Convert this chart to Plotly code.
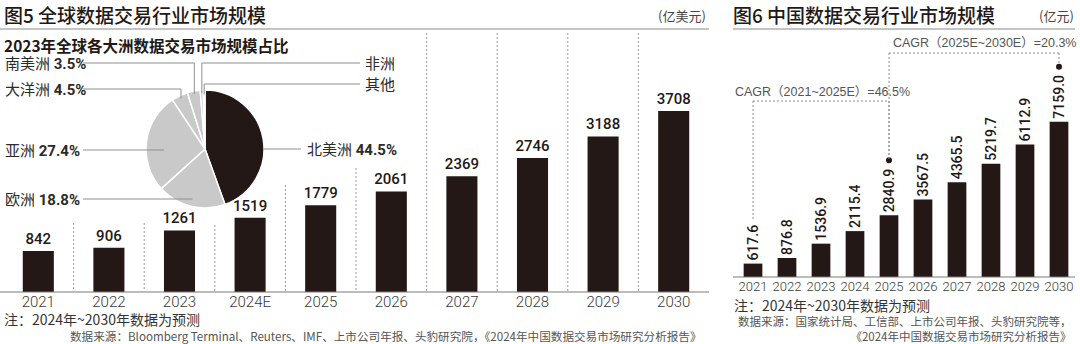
import math
import plotly.graph_objects as go

# ---------------- data ----------------
years_global = ["2021", "2022", "2023", "2024E", "2025", "2026", "2027", "2028", "2029", "2030"]
global_market = [842, 906, 1261, 1519, 1779, 2061, 2369, 2746, 3188, 3708]

years_china = ["2021", "2022", "2023", "2024", "2025", "2026", "2027", "2028", "2029", "2030"]
china_market = [617.6, 876.8, 1536.9, 2115.4, 2840.9, 3567.5, 4365.5, 5219.7, 6112.9, 7159.0]

regions = ["北美洲", "欧洲", "亚洲", "大洋洲", "南美洲", "非洲", "其他"]
region_share = [44.5, 18.8, 27.4, 4.5, 3.5, 0.8, 0.5]
region_show_pct = [True, True, True, True, True, False, False]

cagr_labels = ["CAGR（2021~2025E）=46.5%", "CAGR（2025E~2030E）=20.3%"]
cagr_spans = [("2021", "2025"), ("2025", "2030")]

# ---------------- style / layout constants ----------------
W, H = 1080, 344
DARK = "#231815"
LIGHT = "#c9c9c9"
LINE = "#8f8f8f"
CJK = "Noto Sans CJK SC"
NUM = "Roboto, Noto Sans CJK SC"


def px(x):
    return x / W


def py(y):
    return 1 - y / H


# left chart geometry (pixels)
L_X0, L_X1, L_BASE, L_TOP, L_YMAX = 3, 709, 292, 33, 5306
# right chart geometry (pixels)
R_X0, R_X1, R_BASE, R_TOP, R_YMAX = 736, 1076, 277, 33, 11248
# pie geometry
P_CX, P_CY, P_R = 205, 149, 59


def r_cat_px(cat):
    i = years_china.index(cat)
    return R_X0 + (i + 0.5) * (R_X1 - R_X0) / len(years_china)


def r_val_px(v):
    return R_BASE - v / R_YMAX * (R_BASE - R_TOP)


fig = go.Figure()

# left bars
fig.add_trace(go.Bar(
    x=years_global, y=global_market, xaxis="x", yaxis="y", width=0.44,
    marker=dict(color=DARK, line=dict(width=0)),
    texttemplate="%{y}", textposition="outside", cliponaxis=False,
    constraintext="none",
    textfont=dict(family=NUM, size=15, color=DARK, weight=500),
    showlegend=False, hoverinfo="x+y",
))

# right bars
fig.add_trace(go.Bar(
    x=years_china, y=china_market, xaxis="x2", yaxis="y2", width=0.55,
    marker=dict(color=DARK, line=dict(width=0)),
    texttemplate="%{y:.1f}", textposition="outside", textangle=-90,
    cliponaxis=False, constraintext="none",
    textfont=dict(family=NUM, size=14, color=DARK, weight=500),
    showlegend=False, hoverinfo="x+y",
))

# pie
fig.add_trace(go.Pie(
    values=region_share, labels=regions, sort=False, direction="clockwise",
    rotation=0, hole=0, textinfo="none", showlegend=False,
    marker=dict(colors=[DARK] + [LIGHT] * (len(regions) - 1),
                line=dict(color="white", width=1.5)),
    domain=dict(x=[px(P_CX - P_R), px(P_CX + P_R)], y=[py(P_CY + P_R), py(P_CY - P_R)]),
))

shapes = []
annotations = []


def hline(x0, x1, y, color=LINE, width=1, dash="solid"):
    shapes.append(dict(type="line", xref="paper", yref="paper", x0=px(x0), x1=px(x1),
                       y0=py(y), y1=py(y), line=dict(color=color, width=width, dash=dash)))


def vline(x, y0, y1, color=LINE, width=1, dash="solid"):
    shapes.append(dict(type="line", xref="paper", yref="paper", x0=px(x), x1=px(x),
                       y0=py(y0), y1=py(y1), line=dict(color=color, width=width, dash=dash)))


def text(x, y, s, size, color="#333", family=CJK, xanchor="left", weight=None, align="left"):
    f = dict(family=family, size=size, color=color)
    if weight:
        f["weight"] = weight
    annotations.append(dict(xref="paper", yref="paper", x=px(x), y=py(y), text=s,
                            showarrow=False, xanchor=xanchor, yanchor="middle", font=f,
                            align=align))


# title rules
hline(0, 709, 29, color="#8a8a8a")
hline(733, 1075, 29, color="#8a8a8a")
# baselines
hline(0, 709, 292, color="#7a7a7a", width=1.2)
hline(733, 1075, 277, color="#7a7a7a", width=1.2)

# dashed column dividers (left chart)
div_tops = [223, 223, 225, 185, 168, 33, 33, 33, 33]
step = (L_X1 - L_X0) / len(years_global)
for i, top in enumerate(div_tops):
    x = L_X0 + (i + 1) * step
    vline(x, top, 291, color="#9a9a9a", dash="2px,2px")

# pie leader lines (computed from slice angles)
cum = 0
mids = []
tot = sum(region_share)
for s in region_share:
    mids.append((cum + s / 2) / tot * 360)
    cum += s


def pie_pt(angle, frac):
    a = math.radians(angle)
    return P_CX + P_R * frac * math.sin(a), P_CY - P_R * frac * math.cos(a)


# (label x, label y, line start x, kind, radius fraction)
leaders = {
    "北美洲": (305, 149, 301, "edge", 1.0),
    "欧洲": (3, 199, 83, "h", 0.88),
    "亚洲": (3, 150, 83, "h", 0.7),
    "大洋洲": (3, 89, 83, "elbow", 0.95),
    "南美洲": (3, 63, 83, "elbow", 0.95),
    "非洲": (363, 63, 360, "elbow", 0.95),
    "其他": (363, 84, 360, "elbow", 0.92),
}
for name, share, show, mid in zip(regions, region_share, region_show_pct, mids):
    lx, ly, sx, kind, frac = leaders[name]
    ex, ey = pie_pt(mid, frac)
    if kind == "edge":
        ex = P_CX + math.sqrt(max(P_R ** 2 - (ly - P_CY) ** 2, 0))
        hline(ex, sx, ly)
    elif kind == "h":
        hline(sx, ex, ly)
    else:
        hline(sx, ex, ly)
        vline(ex, ly, ey)
    label = name + (" <b>%.1f%%</b>" % share if show else "")
    text(lx, ly + 1, label, 15, color="#2b2b2b", family=NUM)

# CAGR brackets and dots (right chart)
DOT_OFF = 55
for c in [cagr_spans[0][1], cagr_spans[1][1]]:
    v = china_market[years_china.index(c)]
    cx, cy = r_cat_px(c), r_val_px(v) - DOT_OFF
    shapes.append(dict(type="circle", xref="paper", yref="paper",
                       x0=px(cx - 3), x1=px(cx + 3), y0=py(cy + 3), y1=py(cy - 3),
                       fillcolor=DARK, line=dict(width=0)))

levels = [101, 53]
for (a, b), lev in zip(cagr_spans, levels):
    xa, xb = r_cat_px(a), r_cat_px(b)
    va = china_market[years_china.index(a)]
    vb = china_market[years_china.index(b)]
    hline(xa, xb, lev, dash="2px,2px")
    if a == "2021":
        vline(xa, lev, r_val_px(va) - 44, dash="2px,2px")
    else:
        vline(xa, lev, r_val_px(va) - DOT_OFF, dash="2px,2px")
    vline(xb, lev, r_val_px(vb) - DOT_OFF - 3, dash="2px,2px")

text(733, 92, cagr_labels[0], 12.5, color="#555", family="Liberation Sans, " + CJK)
text(891, 43, cagr_labels[1], 12.5, color="#555", family="Liberation Sans, " + CJK)

# titles
text(2, 15, "图5 全球数据交易行业市场规模", 19, color=DARK, weight=500)
text(731, 15, "图6 中国数据交易行业市场规模", 19, color=DARK, weight=500)
text(708, 16, "(亿美元)", 13, color="#444", xanchor="right")
text(1076, 16, "(亿元)", 13, color="#444", xanchor="right")
text(2, 45, "2023年全球各大洲数据交易市场规模占比", 15.5, color=DARK, weight="bold")

# notes and sources
text(2, 319, "注：2024年~2030年数据为预测", 14, color="#333")
text(732, 305, "注：2024年~2030年数据为预测", 14, color="#333")
text(704, 336, "数据来源：Bloomberg Terminal、Reuters、IMF、上市公司年报、头豹研究院，《2024年中国数据交易市场研究分析报告》",
     11.6, color="#555", xanchor="right")
text(1074, 328.5, "数据来源：国家统计局、工信部、上市公司年报、头豹研究院等，<br>《2024年中国数据交易市场研究分析报告》",
     11.5, color="#555", xanchor="right", align="right")

fig.update_layout(
    width=W, height=H, margin=dict(l=0, r=0, t=0, b=0),
    paper_bgcolor="white", plot_bgcolor="rgba(0,0,0,0)",
    xaxis=dict(domain=[px(L_X0), px(L_X1)], type="category", anchor="y",
               showline=False, showgrid=False, zeroline=False, ticks="",
               ticklabelstandoff=-1,
               tickfont=dict(family="Roboto", size=15, color="#3a3a3a", weight=300),
               fixedrange=True),
    yaxis=dict(domain=[py(L_BASE), py(L_TOP)], range=[0, L_YMAX], visible=False,
               fixedrange=True),
    xaxis2=dict(domain=[px(R_X0), px(R_X1)], type="category", anchor="y2",
                showline=False, showgrid=False, zeroline=False, ticks="",
                tickfont=dict(family="Roboto", size=13, color="#3a3a3a", weight=300),
                fixedrange=True),
    yaxis2=dict(domain=[py(R_BASE), py(R_TOP)], range=[0, R_YMAX], visible=False,
                fixedrange=True),
    shapes=shapes, annotations=annotations,
)

fig.write_html("out.html")
